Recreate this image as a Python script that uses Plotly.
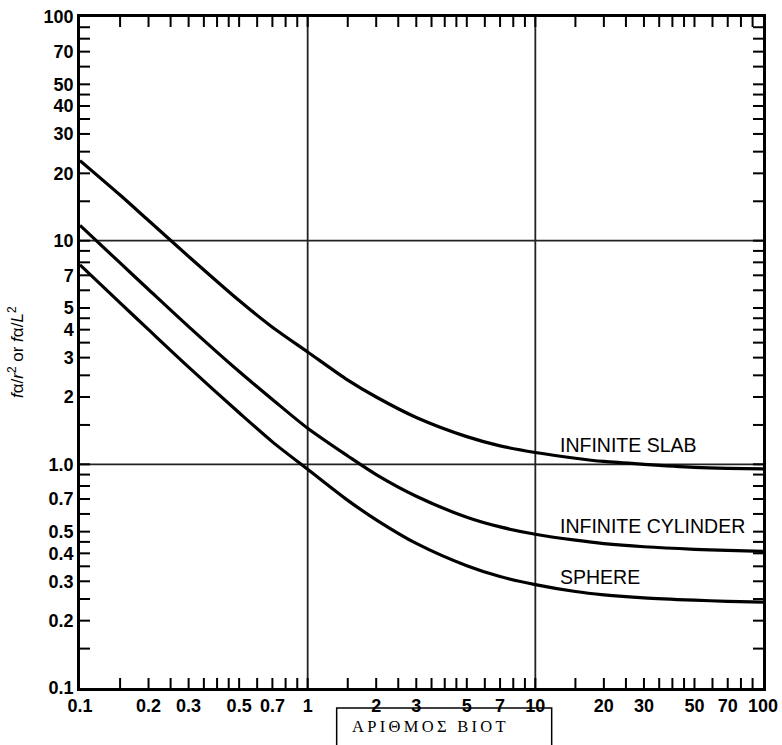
import plotly.graph_objects as go

# Biot number (x) and f*alpha/r^2 (y)
biot = [0.1, 0.15, 0.2, 0.3, 0.5, 0.7, 1, 1.5, 2, 3, 5, 7, 10, 15, 20, 30, 50, 70, 100]
slab = [22.8, 16.0, 12.3, 8.5, 5.4, 4.1, 3.18, 2.38, 2.0, 1.62, 1.33, 1.21, 1.13, 1.065, 1.03, 1.0, 0.97, 0.96, 0.955]
cylinder = [11.7, 7.95, 6.05, 4.13, 2.6, 1.95, 1.45, 1.09, 0.9, 0.72, 0.58, 0.525, 0.487, 0.458, 0.442, 0.428, 0.417, 0.412, 0.408]
sphere = [7.8, 5.27, 4.0, 2.72, 1.7, 1.26, 0.95, 0.69, 0.565, 0.443, 0.352, 0.315, 0.29, 0.27, 0.261, 0.253, 0.247, 0.244, 0.242]

series_names = ["INFINITE SLAB", "INFINITE CYLINDER", "SPHERE"]

x_tick_vals = [0.1, 0.2, 0.3, 0.5, 0.7, 1, 2, 3, 5, 7, 10, 20, 30, 50, 70, 100]
x_tick_text = ["0.1", "0.2", "0.3", "0.5", "0.7", "1", "2", "3", "5", "7", "10", "20", "30", "50", "70", "100"]
y_tick_vals = [0.1, 0.2, 0.3, 0.4, 0.5, 0.7, 1, 2, 3, 4, 5, 7, 10, 20, 30, 40, 50, 70, 100]
y_tick_text = ["0.1", "0.2", "0.3", "0.4", "0.5", "0.7", "1.0", "2", "3", "4", "5", "7", "10", "20",
               "30", "40", "50", "70", "100"]
mantissas = [1.5, 2, 2.5, 3, 3.5, 4, 4.5, 5, 6, 7, 8, 9, 10]
decades = [0.1, 1, 10]
grid_values = [1, 10]

x_title = "ΑΡΙΘΜΟΣ ΒΙΟΤ"
y_title = "<i>f</i>α/<i>r</i><sup>2</sup> or <i>f</i>α/<i>L</i><sup>2</sup>"

# inner tick-mark positions (all, excluding the frame corners)
tick_marks = [round(m * d, 6) for d in decades for m in mantissas if round(m * d, 6) < 100]

fig = go.Figure()
for name, vals in zip(series_names, [slab, cylinder, sphere]):
    fig.add_trace(go.Scatter(x=biot, y=vals, mode="lines", name=name,
                             line=dict(color="black", width=3.2, shape="spline", smoothing=0.8),
                             showlegend=False))

tickfont = dict(family="Liberation Sans, Arial, sans-serif", size=18, color="black", weight="bold")
axis_common = dict(type="log", range=[-1, 2], showgrid=False, automargin=False, zeroline=False,
                   showline=True, linecolor="black", linewidth=2.5, mirror=True,
                   ticks="", tickfont=tickfont, tickmode="array")

fig.update_layout(
    width=782, height=745,
    margin=dict(l=80, r=19, t=17, b=57),
    paper_bgcolor="white", plot_bgcolor="white",
    xaxis=dict(axis_common, tickvals=x_tick_vals, ticktext=x_tick_text),
    yaxis=dict(axis_common, tickvals=y_tick_vals, ticktext=y_tick_text),
)

for g in grid_values:
    fig.add_shape(type="line", xref="x", yref="paper", x0=g, x1=g, y0=0, y1=1,
                  line=dict(color="#222", width=1.8), layer="below")
    fig.add_shape(type="line", xref="paper", yref="y", x0=0, x1=1, y0=g, y1=g,
                  line=dict(color="#222", width=1.8), layer="below")

# inward tick marks on all four sides of the frame
tlx = 10 / 683
tly = 10 / 671
tick_line = dict(color="black", width=2)
for v in tick_marks:
    fig.add_shape(type="line", xref="x", yref="paper", x0=v, x1=v, y0=0, y1=tly, line=tick_line)
    fig.add_shape(type="line", xref="x", yref="paper", x0=v, x1=v, y0=1 - tly, y1=1, line=tick_line)
    fig.add_shape(type="line", xref="paper", yref="y", x0=0, x1=tlx, y0=v, y1=v, line=tick_line)
    fig.add_shape(type="line", xref="paper", yref="y", x0=1 - tlx, x1=1, y0=v, y1=v, line=tick_line)

label_font = dict(family="Liberation Sans, Arial, sans-serif", size=19.5, color="black")
for name, yp in zip(series_names, [0.362, 0.2414, 0.1654]):
    fig.add_annotation(text=name, xref="paper", yref="paper", x=0.6999, y=yp,
                       xanchor="left", yanchor="middle", showarrow=False, font=label_font)

# Greek x-axis caption box (open at the bottom, running off the page)
fig.add_shape(type="path", xref="paper", yref="paper",
              path="M 0.3758 -0.2 L 0.3758 -0.0298 L 0.6906 -0.0298 L 0.6906 -0.2",
              line=dict(color="black", width=1.5))
spaced = "\u2009".join(list(x_title))
fig.add_annotation(text=spaced, xref="paper", yref="paper", x=0.5117, y=-0.0581,
                   xanchor="center", yanchor="middle", showarrow=False,
                   font=dict(family="Liberation Serif, Times New Roman, serif", size=16.5, color="black"))

fig.add_annotation(text=y_title, xref="paper", yref="paper", x=-0.0937, y=0.5007,
                   xanchor="center", yanchor="middle", showarrow=False, textangle=-90,
                   font=dict(family="Liberation Sans, Arial, sans-serif", size=17, color="black"))

fig.write_html("out.html")
